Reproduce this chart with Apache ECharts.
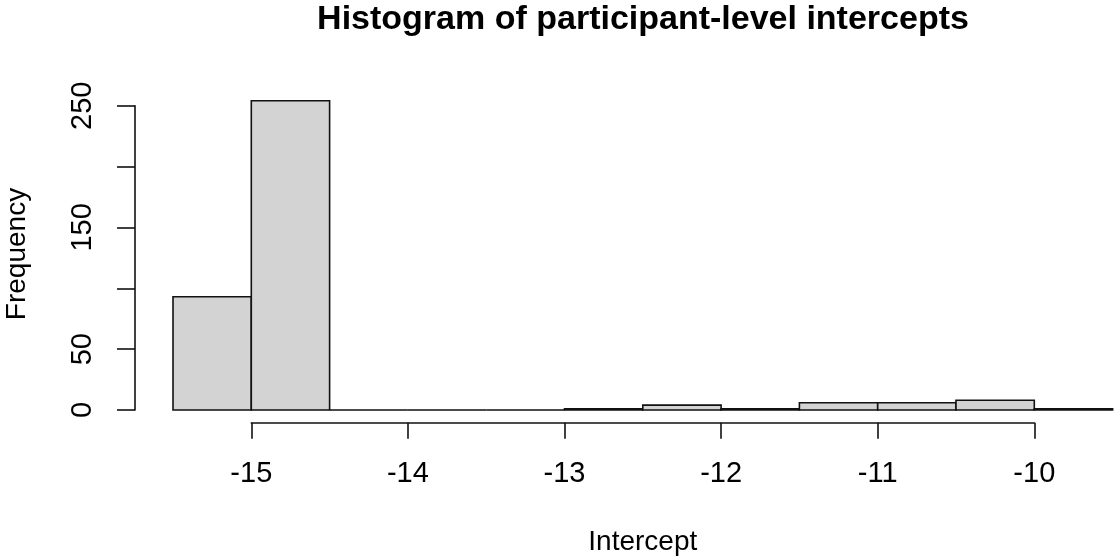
<!DOCTYPE html>
<html>
<head>
<meta charset="utf-8">
<script src="https://cdn.jsdelivr.net/npm/echarts@6/dist/echarts.min.js"></script>
<style>
  html, body { margin: 0; padding: 0; background: #fff; }
  #chart { width: 1114px; height: 560px; }
</style>
</head>
<body>
<div id="chart"></div>
<script>
// Histogram bin edges and counts
const binEdges = [-15.5, -15, -14.5, -14, -13.5, -13, -12.5, -12, -11.5, -11, -10.5, -10, -9.5];
const binCounts = [93, 254, 0, 0, 0, 1, 4, 1, 6, 6, 8, 1];

// Axis ticks
const xTicks = [-15, -14, -13, -12, -11, -10];
const yTicks = [0, 50, 100, 150, 200, 250];
const yTickLabels = ['0', '50', '', '150', '', '250'];

const titleText = 'Histogram of participant-level intercepts';
const xLabel = 'Intercept';
const yLabel = 'Frequency';

const FONT = 'Liberation Sans, Arial, sans-serif';
const INK = '#111111';

const bins = binCounts.map((c, i) => [binEdges[i], binEdges[i + 1], c]);

const chart = echarts.init(document.getElementById('chart'), null, { renderer: 'canvas' });

chart.setOption({
  animation: false,
  backgroundColor: '#ffffff',
  grid: [
    // plotting region for the bars
    { left: 173, right: 1.4, top: 44.8, bottom: 150 },
    // frame for the frequency axis
    { left: 135, width: 1, top: 105.7, bottom: 150 },
    // frame for the intercept axis
    { left: 251.3, right: 79.7, top: 300, bottom: 137.3 }
  ],
  xAxis: [
    { gridIndex: 0, type: 'value', min: binEdges[0], max: binEdges[binEdges.length - 1], show: false },
    { gridIndex: 1, type: 'value', min: 0, max: 1, show: false },
    {
      gridIndex: 2, type: 'value', min: xTicks[0], max: xTicks[xTicks.length - 1], interval: 1,
      position: 'bottom',
      axisLine: { show: true, lineStyle: { color: INK, width: 1.6 } },
      axisTick: { show: true, length: 16, lineStyle: { color: INK, width: 1.6 } },
      axisLabel: {
        show: true, margin: 37, fontSize: 29, fontFamily: FONT, color: '#000',
        formatter: v => (xTicks.includes(v) ? String(v) : '')
      },
      splitLine: { show: false },
      name: xLabel, nameLocation: 'middle', nameGap: 106,
      nameTextStyle: { fontSize: 28, fontFamily: FONT, color: '#000' }
    }
  ],
  yAxis: [
    { gridIndex: 0, type: 'value', min: 0, max: 300, show: false },
    {
      gridIndex: 1, type: 'value', min: yTicks[0], max: yTicks[yTicks.length - 1], interval: 50,
      position: 'left',
      axisLine: { show: true, lineStyle: { color: INK, width: 1.6 } },
      axisTick: { show: true, length: 18, lineStyle: { color: INK, width: 1.6 } },
      axisLabel: {
        show: true, rotate: 90, margin: 38, fontSize: 29, fontFamily: FONT, color: '#000',
        formatter: v => {
          const i = yTicks.indexOf(v);
          return i >= 0 ? yTickLabels[i] : '';
        }
      },
      splitLine: { show: false }
    },
    { gridIndex: 2, type: 'value', min: 0, max: 1, show: false }
  ],
  graphic: [
    {
      type: 'text', x: 643, y: 20,
      style: {
        text: titleText, fontSize: 34, fontWeight: 'bold', fontFamily: FONT,
        fill: '#000', textAlign: 'center', textVerticalAlign: 'middle'
      }
    },
    {
      type: 'text', x: 17, y: 254, rotation: Math.PI / 2,
      style: {
        text: yLabel, fontSize: 28, fontFamily: FONT,
        fill: '#000', textAlign: 'center', textVerticalAlign: 'middle'
      }
    }
  ],
  series: [
    {
      type: 'custom',
      xAxisIndex: 0,
      yAxisIndex: 0,
      clip: false,
      data: bins,
      encode: { x: [0, 1], y: 2 },
      renderItem: (params, api) => {
        const p0 = api.coord([api.value(0), api.value(2)]);
        const p1 = api.coord([api.value(1), 0]);
        return {
          type: 'rect',
          shape: { x: p0[0], y: p0[1], width: p1[0] - p0[0], height: p1[1] - p0[1] },
          style: { fill: '#D3D3D3', stroke: INK, lineWidth: 1.6 }
        };
      }
    }
  ]
});
</script>
</body>
</html>
